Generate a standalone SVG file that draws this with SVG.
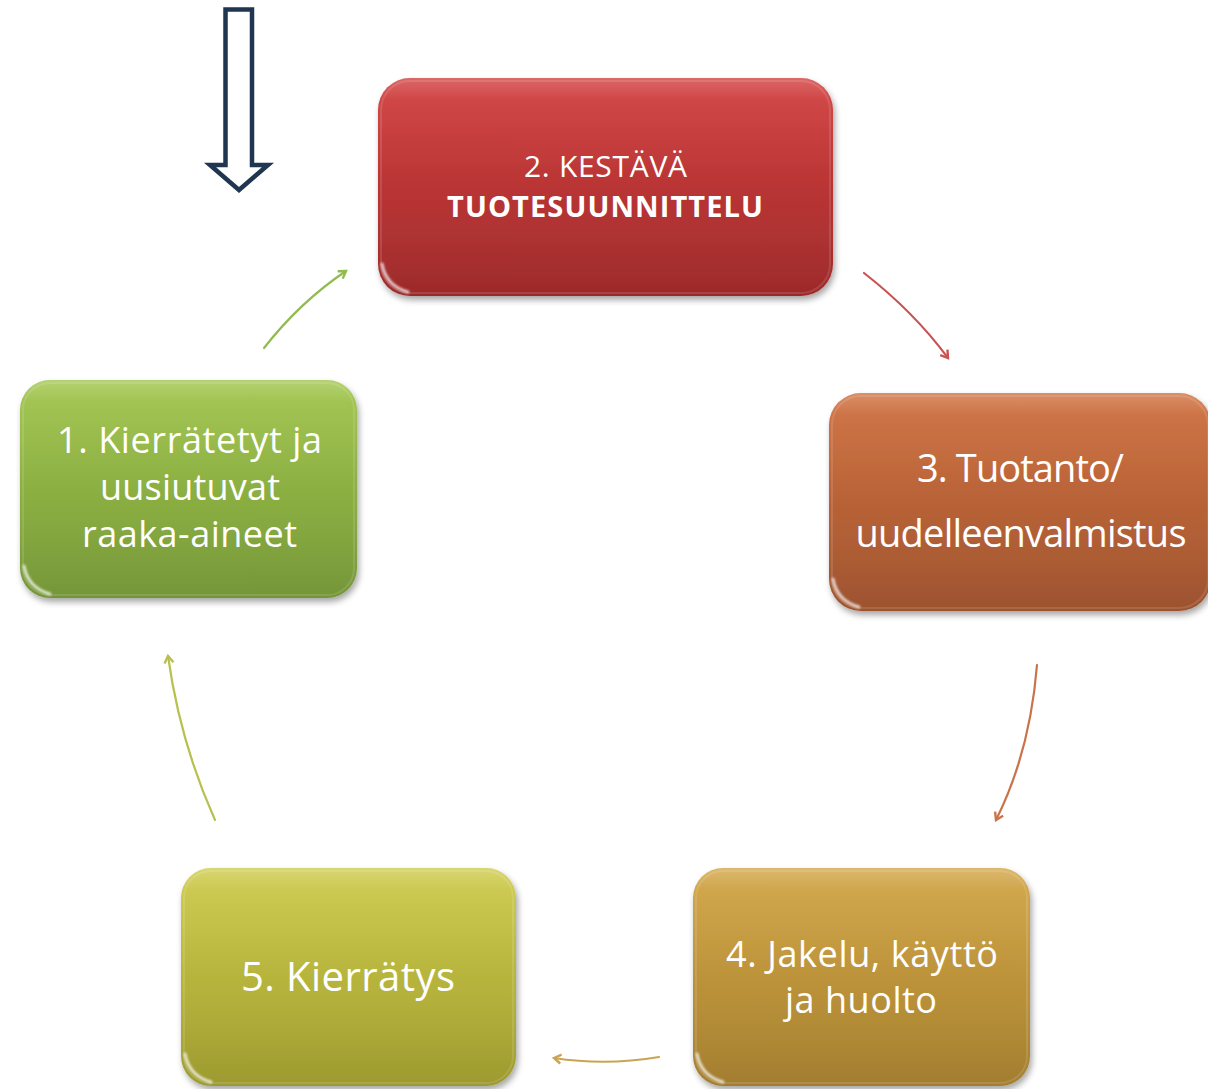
<svg xmlns="http://www.w3.org/2000/svg" width="1208" height="1089" viewBox="0 0 1208 1089">
<defs>
<linearGradient id="gGreen" x1="0" y1="0" x2="0" y2="1"><stop offset="0" stop-color="#a0c54b"/><stop offset="1" stop-color="#789a39"/></linearGradient>
<linearGradient id="gRed" x1="0" y1="0" x2="0" y2="1"><stop offset="0" stop-color="#d23e3e"/><stop offset="1" stop-color="#a12b2b"/></linearGradient>
<linearGradient id="gOrange" x1="0" y1="0" x2="0" y2="1"><stop offset="0" stop-color="#cf6f3e"/><stop offset="1" stop-color="#a1552f"/></linearGradient>
<linearGradient id="gGold" x1="0" y1="0" x2="0" y2="1"><stop offset="0" stop-color="#d2a545"/><stop offset="1" stop-color="#a7812f"/></linearGradient>
<linearGradient id="gOlive" x1="0" y1="0" x2="0" y2="1"><stop offset="0" stop-color="#cecb4b"/><stop offset="1" stop-color="#a19e30"/></linearGradient>
<linearGradient id="sheen" x1="0" y1="0" x2="0" y2="1"><stop offset="0" stop-color="#fff" stop-opacity="0.22"/><stop offset="0.1" stop-color="#fff" stop-opacity="0.05"/><stop offset="0.5" stop-color="#fff" stop-opacity="0"/><stop offset="1" stop-color="#000" stop-opacity="0.03"/></linearGradient>
<filter id="shadow" x="-10%" y="-10%" width="125%" height="130%"><feDropShadow dx="2" dy="4" stdDeviation="3" flood-color="#000" flood-opacity="0.35"/></filter>
<filter id="soft" x="-20%" y="-20%" width="140%" height="140%"><feGaussianBlur stdDeviation="1.2"/></filter>
<marker id="mGreen" markerWidth="12" markerHeight="12" refX="9" refY="6" orient="auto" markerUnits="userSpaceOnUse"><path d="M2,1.5 L9,6 L2,10.5" fill="none" stroke="#92bb4f" stroke-width="2.4"/></marker>
<marker id="mRed" markerWidth="12" markerHeight="12" refX="9" refY="6" orient="auto" markerUnits="userSpaceOnUse"><path d="M2,1.5 L9,6 L2,10.5" fill="none" stroke="#c95252" stroke-width="2.4"/></marker>
<marker id="mOrange" markerWidth="12" markerHeight="12" refX="9" refY="6" orient="auto" markerUnits="userSpaceOnUse"><path d="M2,1.5 L9,6 L2,10.5" fill="none" stroke="#c8734a" stroke-width="2.4"/></marker>
<marker id="mGold" markerWidth="12" markerHeight="12" refX="9" refY="6" orient="auto" markerUnits="userSpaceOnUse"><path d="M2,1.5 L9,6 L2,10.5" fill="none" stroke="#caa452" stroke-width="2.4"/></marker>
<marker id="mOlive" markerWidth="12" markerHeight="12" refX="9" refY="6" orient="auto" markerUnits="userSpaceOnUse"><path d="M2,1.5 L9,6 L2,10.5" fill="none" stroke="#b8c04f" stroke-width="2.4"/></marker>
</defs>
<style>
.box{filter:url(#shadow);}
.sheen{fill:url(#sheen);}
.edge{fill:none;stroke:#fff;stroke-opacity:0.12;stroke-width:2;}
.glint{fill:none;stroke:#fff;stroke-opacity:0.75;stroke-width:3;stroke-linecap:round;filter:url(#soft);}
.t{fill:#fff;font-family:"Open Sans","Noto Sans","Liberation Sans",Arial,sans-serif;text-anchor:middle;}
.b{font-weight:bold;}
.con{fill:none;stroke-width:2.2;stroke-linecap:round;}
</style>

<g id="start-arrow">
<polygon points="225.5,9.5 252,9.5 252,165 268,165 239,190 210,165 225.5,165" fill="#fff" stroke="#1f3550" stroke-width="4.5" stroke-linejoin="miter"/>
</g>

<g id="connectors">
<path class="con" d="M264,348 Q300,302 346,271" stroke="#92bb4f" marker-end="url(#mGreen)"/>
<path class="con" d="M864,273 Q914,312 948,358" stroke="#c95252" marker-end="url(#mRed)"/>
<path class="con" d="M1037,665 Q1030,752 996,820" stroke="#c8734a" marker-end="url(#mOrange)"/>
<path class="con" d="M659,1057 Q606,1066 554,1058" stroke="#caa452" marker-end="url(#mGold)"/>
<path class="con" d="M215,820 Q180,742 168,656" stroke="#b8c04f" marker-end="url(#mOlive)"/>
</g>

<g id="node1" transform="translate(20,380)">
<rect class="box" width="337" height="218" rx="30" fill="url(#gGreen)"/>
<rect class="sheen" width="337" height="218" rx="30"/>
<rect class="edge" x="3" y="3" width="331" height="212" rx="27"/>
<path class="glint" d="M4,186 Q8,208 30,214"/>
<text class="t" font-size="36"><tspan x="169.5" y="73" textLength="265">1. Kierrätetyt ja</tspan><tspan x="170" y="120" textLength="180">uusiutuvat</tspan><tspan x="169.5" y="167" textLength="215">raaka-aineet</tspan></text>
</g>

<g id="node2" transform="translate(378,78)">
<rect class="box" width="455" height="218" rx="32" fill="url(#gRed)"/>
<rect class="sheen" width="455" height="218" rx="32"/>
<rect class="edge" x="3" y="3" width="449" height="212" rx="29"/>
<path class="glint" d="M4,186 Q8,208 30,214"/>
<text class="t" font-size="30"><tspan x="227.5" y="99" textLength="163">2. KESTÄVÄ</tspan></text>
<text class="t b" font-size="29"><tspan x="227" y="139" textLength="316">TUOTESUUNNITTELU</tspan></text>
</g>

<g id="node3" transform="translate(829,393)">
<rect class="box" width="382" height="218" rx="32" fill="url(#gOrange)"/>
<rect class="sheen" width="382" height="218" rx="32"/>
<rect class="edge" x="3" y="3" width="376" height="212" rx="29"/>
<path class="glint" d="M4,186 Q8,208 30,214"/>
<text class="t" font-size="38"><tspan x="191.5" y="89" textLength="207">3. Tuotanto/</tspan><tspan x="192" y="154" textLength="331">uudelleenvalmistus</tspan></text>
</g>

<g id="node4" transform="translate(693,868)">
<rect class="box" width="337" height="218" rx="30" fill="url(#gGold)"/>
<rect class="sheen" width="337" height="218" rx="30"/>
<rect class="edge" x="3" y="3" width="331" height="212" rx="27"/>
<path class="glint" d="M4,186 Q8,208 30,214"/>
<text class="t" font-size="36"><tspan x="169" y="99" textLength="272">4. Jakelu, käyttö</tspan><tspan x="168" y="145" textLength="152">ja huolto</tspan></text>
</g>

<g id="node5" transform="translate(181,868)">
<rect class="box" width="335" height="218" rx="30" fill="url(#gOlive)"/>
<rect class="sheen" width="335" height="218" rx="30"/>
<rect class="edge" x="3" y="3" width="329" height="212" rx="27"/>
<path class="glint" d="M4,186 Q8,208 30,214"/>
<text class="t" font-size="40"><tspan x="167" y="123" textLength="214">5. Kierrätys</tspan></text>
</g>
</svg>
